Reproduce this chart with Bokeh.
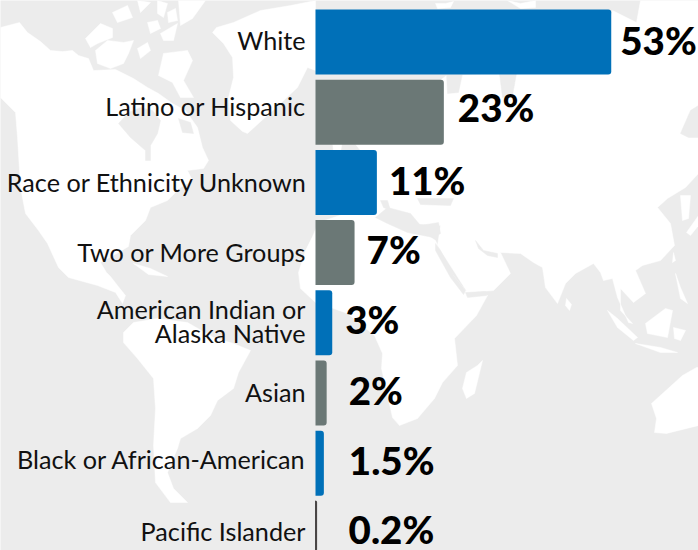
from bokeh.embed import file_html
from bokeh.resources import INLINE
from bokeh.plotting import figure
from bokeh.models import Range1d, ColumnDataSource
from bokeh.core.properties import value

categories = ["White", "Latino or Hispanic", "Race or Ethnicity Unknown", "Two or More Groups",
              "American Indian or\nAlaska Native", "Asian", "Black or African-American", "Pacific Islander"]
shares = [53, 23, 11, 7, 3, 2, 1.5, 0.2]
share_labels = ["53%", "23%", "11%", "7%", "3%", "2%", "1.5%", "0.2%"]
bar_colors = ["#0070b8", "#6b7876", "#0070b8", "#6b7876", "#0070b8", "#6b7876", "#0070b8", "#2e2a2a"]
bar_edge_alpha = [0, 0, 0, 0, 0, 0, 0, 1]
rows = list(range(len(categories)))
label_dx = [9, 14, 12, 12, 13, 22, 25, 32]
label_dy = [-2.5, -5, -2, -4, -3.5, -3.5, -3, -4]
cat_dy = [-2.5, -6, 0, -1, -2, -1.5, -4, -2]
cat_dx = [-10, -10, -8.5, -9.5, -10, -10, -9.5, -10]

LAND = [
 # North America
 [(0,27),(19,22),(27,32),(40,41),(50,50),(62,51),(72,50),(78,55),(88,58),(93,70),(115,69),(133,78),(147,87),(158,93),
  (172,103),(185,110),(197,127),(202,147),(208,160),(203,168),(187,170),(192,180),(180,187),(167,200),(150,207),(145,220),(130,235),(128,246),
  (118,252),(100,262),(106,272),(110,276),(117,285),(125,295),
  (122,303),(115,292),(97,285),(68,277),(58,267),(47,243),(38,230),(25,213),(20,187),(17,137),(15,112),(0,97)],
 # South America
 [(123,332),(133,322),(157,318),(187,322),(213,337),(233,343),(250,350),(238,372),(233,388),(217,400),(210,415),(197,428),(180,438),(177,448),
  (167,472),(173,488),(187,502),(170,502),(155,482),(153,445),(155,408),(153,378),(137,358),(123,342)],
 # Africa
 [(318,222),(345,213),(377,217),(400,225),(420,230),(435,240),(447,268),(465,290),(487,295),(476,315),(454,338),(457,365),(442,382),(434,398),
  (417,418),(399,425),(392,417),(381,368),(382,353),(374,335),(347,313),(333,308),(315,302),(300,288),(298,272),(305,250),(312,236)],
 # Eurasia
 [(348,213),(352,190),(360,170),(360,150),(352,140),(420,95),(446,75),(515,73),(560,50),(608,24),(612,10),(636,22),(640,0),(698,0),(698,173),(685,187),
  (667,198),(657,207),(670,223),(674,245),(660,260),(642,265),(635,270),(645,293),(633,302),(620,288),(620,310),(632,323),
  (628,322),(617,297),(612,278),(603,280),(600,272),(593,263),(575,273),(565,283),(557,303),(545,287),(542,267),(533,262),(520,253),(500,252),(510,273),(493,290),
  (467,292),(453,270),(437,245),(440,225),(400,222),(375,217)],
 # Greenland
 [(212,32),(216,27),(233,22),(260,10),(290,5),(315,0),(315,70),(307,67),(297,87),(280,103),(247,133),(242,131),(230,120),(228,97),(233,77),(232,57),(223,43)],
 # Arctic islands
 [(85,38),(100,23),(112,28),(112,37),(97,43),(90,47)],
 [(95,50),(107,40),(123,42),(133,40),(128,53),(123,63),(110,68),(97,63)],
 [(137,48),(147,42),(150,50),(140,58)],
 [(112,12),(127,5),(132,17),(117,22)],
 [(137,0),(150,2),(140,12)],
 [(147,22),(157,20),(160,28),(150,33)],
 [(157,0),(167,3),(163,17),(157,13)],
 [(167,12),(175,8),(177,20),(168,22)],
 [(160,33),(177,23),(173,40),(163,40)],
 [(163,53),(187,50),(192,60),(183,80),(193,97),(180,97),(172,82),(158,75)],
 [(178,0),(205,0),(192,18),(180,25)],
 # Islands of the Americas
 [(133,263),(150,268),(167,276),(148,274)],
 # Britain, Arctic Russia flecks
 [(332,140),(342,140),(340,152),(333,152)],
 [(435,3),(445,3),(453,1),(450,7),(437,8)],
 [(507,0),(520,3),(535,0),(535,7),(520,8)],
 # Madagascar, Sri Lanka
 [(482,360),(474,393),(466,398),(462,388),(466,372),(477,365)],
 [(566,298),(571,304),(569,310),(565,305)],
 # Southeast Asia
 [(607,310),(617,318),(637,337),(633,340),(617,327)],
 [(635,343),(660,347),(677,352),(660,352)],
 [(645,323),(665,308),(672,310),(667,337),(647,333)],
 [(673,327),(685,330),(680,340),(674,338)],
 [(675,273),(680,287),(687,303),(680,298)],
 [(673,252),(675,260),(672,262)],
 # Korea and Japan
 [(680,195),(690,195),(688,218),(682,220)],
 [(686,232),(698,215),(698,225),(690,235)],
 # Australia
 [(651,403),(682,375),(696,367),(698,367),(698,425),(666,433),(654,432),(656,418)],
]
SEAS = [
 [(118,123),(128,112),(140,107),(152,110),(160,120),(157,133),(150,145),(150,160),(145,160),(145,150),(130,137)],
 [(178,118),(190,122),(193,133),(182,132)],
 [(680,133),(690,110),(698,105),(698,137),(688,137)],
 [(446,73),(462,73),(458,92),(447,93)],
 [(499,73),(516,73),(512,95),(502,97)],
 [(417,198),(453,198),(450,205),(420,204)],
 [(380,200),(387,200),(390,210),(383,207)],
 [(375,217),(387,207),(410,213),(420,225),(438,222),(440,233),(433,237),(407,232),(387,223)],
 [(435,243),(440,250),(453,275),(465,290),(463,294),(450,277),(435,250)],
 [(465,292),(485,291),(486,295),(467,297)],
 [(475,240),(483,250),(497,253),(497,257),(487,255),(478,248)],
]

p = figure(width=698, height=550, output_backend="svg", toolbar_location=None,
           x_range=Range1d(-315 / 5.58, (698 - 315) / 5.58),
           y_range=Range1d((550 - 41.5) / 70.2, -41.5 / 70.2),
           min_border=0, outline_line_color=None, background_fill_color="#ececec",
           border_fill_color="#ececec")
p.extra_x_ranges["map"] = Range1d(0, 698)
p.extra_y_ranges["map"] = Range1d(550, 0)
p.grid.visible = False
p.axis.visible = False

p.patches([[q[0] for q in s] for s in LAND], [[q[1] for q in s] for s in LAND],
          x_range_name="map", y_range_name="map", fill_color="#ffffff", line_color="#ffffff", line_width=0.5)
p.patches([[q[0] for q in s] for s in SEAS], [[q[1] for q in s] for s in SEAS],
          x_range_name="map", y_range_name="map", fill_color="#ececec", line_color="#ececec", line_width=0.5)

src = ColumnDataSource(dict(y=rows, right=shares, color=bar_colors, cat=categories, lab=share_labels,
                            zero=[0] * len(rows), ldx=label_dx, ldy=label_dy, cdy=cat_dy,
                            cdx=cat_dx, edge=bar_edge_alpha))
p.hbar(y="y", left="zero", right="right", height=65 / 70.2, fill_color="color", source=src,
       line_color="color", line_alpha="edge", line_width=0.7, border_radius=(0, 3, 3, 0))
p.text(x="zero", y="y", text="cat", source=src, x_offset="cdx", y_offset="cdy", text_align="right",
       text_baseline="middle", text_font=value("Lato"), text_font_size="25.2px", text_color="#111111",
       text_line_height=0.8)
p.text(x="right", y="y", text="lab", source=src, x_offset="ldx", y_offset="ldy", text_align="left",
       text_baseline="middle", text_font=value("Lato Black"), text_font_size="38.5px",
       text_color="#000000")

open("out.html", "w").write(file_html(p, INLINE))
